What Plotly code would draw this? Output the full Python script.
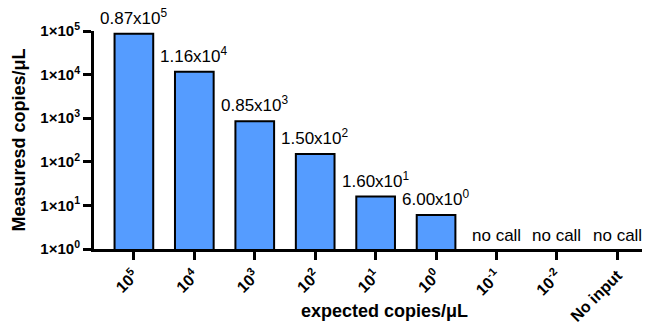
import math
import plotly.graph_objects as go

categories = ["1e5", "1e4", "1e3", "1e2", "1e1", "1e0", "1e-1", "1e-2", "No input"]
tick_labels = ["<b>10<sup>5</sup></b>", "<b>10<sup>4</sup></b>", "<b>10<sup>3</sup></b>",
               "<b>10<sup>2</sup></b>", "<b>10<sup>1</sup></b>", "<b>10<sup>0</sup></b>",
               "<b>10<sup>-1</sup></b>", "<b>10<sup>-2</sup></b>", "<b>No input</b>"]
measured = [87000, 11600, 850, 150, 16, 6, None, None, None]
bar_labels = ["0.87x10<sup>5</sup>", "1.16x10<sup>4</sup>", "0.85x10<sup>3</sup>",
              "1.50x10<sup>2</sup>", "1.60x10<sup>1</sup>", "6.00x10<sup>0</sup>",
              "", "", ""]
no_call_labels = ["", "", "", "", "", "", "no call", "no call", "no call"]
y_tickvals = [1, 10, 100, 1000, 10000, 100000]
y_ticktext = ["<b>1×10<sup>0</sup></b>", "<b>1×10<sup>1</sup></b>", "<b>1×10<sup>2</sup></b>",
              "<b>1×10<sup>3</sup></b>", "<b>1×10<sup>4</sup></b>", "<b>1×10<sup>5</sup></b>"]

FONT = "Liberation Sans, Arial, sans-serif"
xs = list(range(len(categories)))

fig = go.Figure()
fig.add_trace(go.Bar(
    x=xs, y=measured, width=0.64,
    marker=dict(color="#559CFF", line=dict(color="black", width=2)),
    cliponaxis=False, showlegend=False,
))

for x, v, lab in zip(xs, measured, bar_labels):
    if v is not None and lab:
        fig.add_annotation(x=x, y=math.log10(v), xref="x", yref="y", text=lab,
                           showarrow=False, yanchor="bottom", yshift=4,
                           font=dict(family=FONT, size=17, color="black"))

for x, lab in zip(xs, no_call_labels):
    if lab:
        fig.add_annotation(x=x, y=0, xref="x", yref="y", text=lab, showarrow=False,
                           yanchor="bottom", yshift=2,
                           font=dict(family=FONT, size=17, color="black"))

fig.add_annotation(x=0.522, y=-0.285, xref="paper", yref="paper", yanchor="middle",
                   text="<b>expected copies/μL</b>", showarrow=False,
                   font=dict(family=FONT, size=18, color="black"))
fig.add_annotation(x=-0.134, y=0.5, xref="paper", yref="paper", xanchor="center",
                   yanchor="middle", textangle=-90,
                   text="<b>Measuresd copies/μL</b>", showarrow=False,
                   font=dict(family=FONT, size=18, color="black"))

# page body has an 8px margin; size the figure so the plot area lands where the reference has it
fig.update_layout(
    width=642, height=317,
    margin=dict(l=86, r=0, t=23, b=76, autoexpand=False),
    paper_bgcolor="white", plot_bgcolor="white",
    font=dict(family=FONT, color="black"),
)
fig.update_xaxes(
    range=[-0.66, 8.54], tickmode="array", tickvals=xs, ticktext=tick_labels,
    tickangle=-45, ticks="outside", ticklen=8, tickwidth=3, tickcolor="black",
    showline=True, linewidth=3, linecolor="black", showgrid=False, zeroline=False,
    tickfont=dict(family=FONT, size=16, color="black"), automargin=False,
)
fig.update_yaxes(
    type="log", range=[0, 5], tickmode="array", tickvals=y_tickvals, ticktext=y_ticktext,
    ticks="outside", ticklen=8, tickwidth=3, tickcolor="black",
    showline=True, linewidth=3, linecolor="black", showgrid=False, zeroline=False,
    tickfont=dict(family=FONT, size=15, color="black"), automargin=False,
)

fig.write_html("out.html")
